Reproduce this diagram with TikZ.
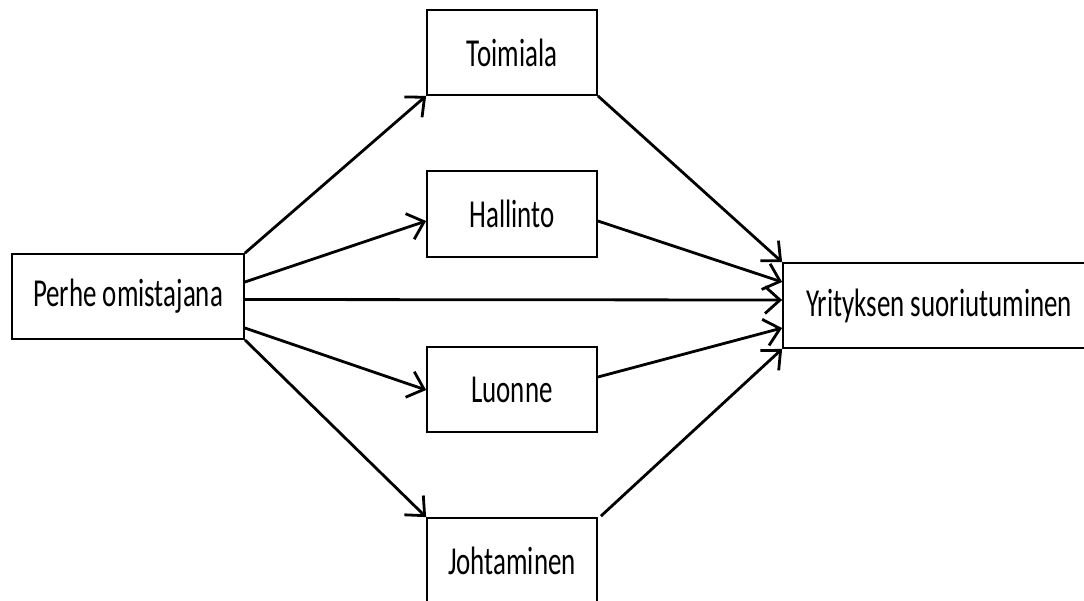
\documentclass[tikz,border=0pt]{standalone}
\usepackage{fontspec}
\setmainfont{Carlito}
\newfontfamily\narrowfont[FakeStretch=0.68]{Carlito}
\usetikzlibrary{arrows.meta,calc}
\begin{document}
\begin{tikzpicture}[x=1pt,y=-1pt,
  box/.style={draw=black,line width=1.8pt,fill=white,inner sep=0pt,
    minimum width=170pt,minimum height=85pt,
    font=\narrowfont\fontsize{39.6}{44}\selectfont},
  link/.style={draw=black,line width=2.8pt,
    -{Straight Barb[length=15pt,width=27pt,line width=2.8pt]}},
  plain/.style={draw=black,line width=2.8pt}]
\useasboundingbox (0,0) rectangle (1084,600);

% boxes
\node[box,minimum width=232pt] (perhe) at (128,296.5) {Perhe omistajana};
\node[box] (toim) at (512,52.5) {Toimiala};
\node[box,minimum height=86pt] (hall) at (512,214) {Hallinto};
\node[box] (luon) at (512,389.5) {Luonne};
\node[box,minimum height=86pt] (joht) at (512,561) {Johtaminen};
\node[box,minimum width=312pt] (yri) at (939,305.5) {Yrityksen suoriutuminen};

% from the owner family to the intermediate factors
\draw[link] (perhe.north east) -- (toim.south west);
\draw[link] ($(perhe.east)+(0,-14.5)$) -- ($(hall.west)+(0,7)$);
\draw[link] ($(perhe.east)+(0,31.5)$) -- ($(luon.west)+(0,0.5)$);
\draw[link] (perhe.south east) -- (joht.north west);

% direct effect
\draw[link] ($(perhe.east)+(0,3)$) -- ($(yri.west)+(0,-5.5)$);

% from the factors to performance
\draw[link] (toim.south east) -- (yri.north west);
\draw[link] ($(hall.east)+(0,7)$) -- ($(yri.west)+(0,-23.5)$);
\draw[link] ($(luon.east)+(0,-12.5)$) -- ($(yri.west)+(0,22.5)$);
\draw[link] ($(joht.north east)+(3,-1)$) -- (yri.south west);
\end{tikzpicture}
\end{document}
